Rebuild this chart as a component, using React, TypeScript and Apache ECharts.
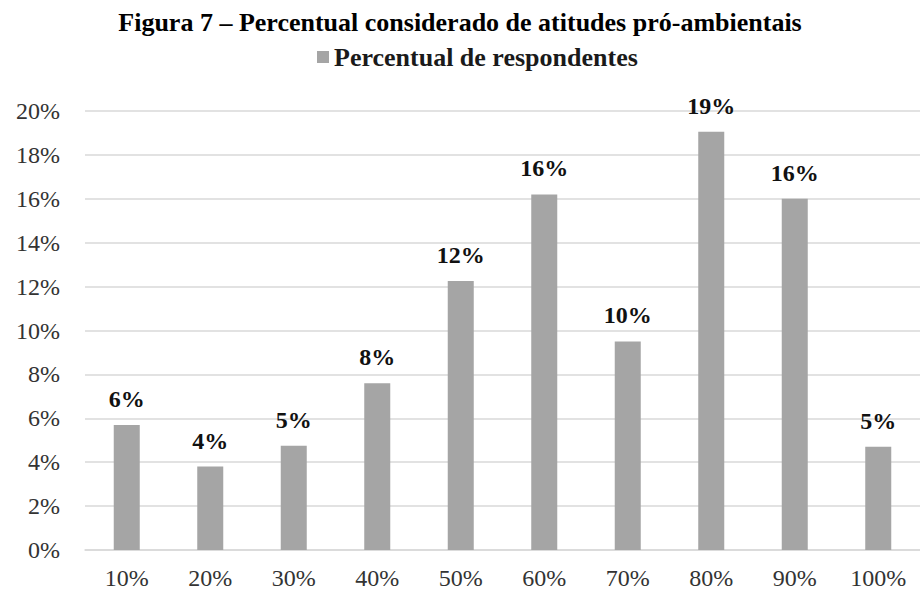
import React, { useEffect, useRef } from "react";
import * as echarts from "echarts";

const categories = ["10%", "20%", "30%", "40%", "50%", "60%", "70%", "80%", "90%", "100%"];
const respondentes = [5.7, 3.8, 4.75, 7.6, 12.25, 16.2, 9.5, 19.05, 16.0, 4.7];
const titleText = "Figura 7 – Percentual considerado de atitudes pró-ambientais";
const seriesName = "Percentual de respondentes";

export default function App() {
  const ref = useRef<HTMLDivElement>(null);
  useEffect(() => {
    document.body.style.margin = "0";
    const chart = echarts.init(ref.current!, null, { renderer: "svg" });
    chart.setOption({
      animation: false,
      backgroundColor: "#ffffff",
      title: {
        text: titleText,
        left: "center",
        top: 4,
        textStyle: { fontFamily: "Liberation Serif", fontWeight: "bold", fontSize: 26, color: "#000" },
      },
      legend: {
        top: 44,
        left: 317,
        padding: 0,
        itemWidth: 12,
        itemHeight: 12,
        icon: "rect",
        itemGap: 5,
        textStyle: { fontFamily: "Liberation Serif", fontWeight: "bold", fontSize: 26, color: "#1a1a1a" },
        data: [seriesName],
      },
      grid: { left: 85, top: 111, width: 843, height: 439, containLabel: false },
      xAxis: {
        type: "category",
        data: categories,
        axisLine: { show: true, lineStyle: { color: "#d9d9d9", width: 1.5 } },
        axisTick: { show: false },
        axisLabel: { margin: 16, fontFamily: "Liberation Serif", fontSize: 24, color: "#333" },
      },
      yAxis: {
        type: "value",
        min: 0,
        max: 20,
        interval: 2,
        axisLine: { show: false },
        axisTick: { show: false },
        splitLine: { lineStyle: { color: "#d9d9d9", width: 1.5 } },
        axisLabel: {
          margin: 25,
          fontFamily: "Liberation Serif",
          fontSize: 24,
          color: "#333",
          formatter: (v: number) => `${v}%`,
        },
      },
      series: [
        {
          name: seriesName,
          type: "bar",
          data: respondentes,
          barWidth: 26,
          itemStyle: { color: "#a5a5a5" },
          label: {
            show: true,
            position: "top",
            distance: 14,
            fontFamily: "Liberation Serif",
            fontWeight: "bold",
            fontSize: 24,
            color: "#111",
            formatter: (p: any) => `${Math.round(p.value)}%`,
          },
        },
      ],
    });
    return () => chart.dispose();
  }, []);
  return <div ref={ref} style={{ width: 920, height: 598, position: "absolute", left: 0, top: 0 }} />;
}
